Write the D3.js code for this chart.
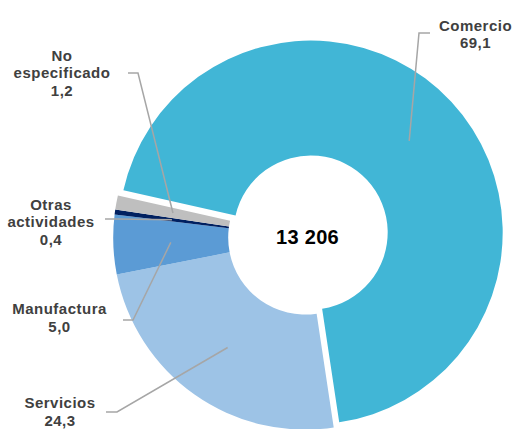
<!DOCTYPE html>
<html>
<head>
<meta charset="utf-8">
<script src="https://cdn.jsdelivr.net/npm/d3@7"></script>
<style>
  html, body { margin: 0; padding: 0; background: #ffffff; }
  svg { display: block; }
</style>
</head>
<body>
<svg id="chart" width="515" height="429"></svg>
<script>
// ---- data ----
const categories = ["Comercio", "Servicios", "Manufactura", "Otras actividades", "No especificado"];
const values = [69.1, 24.3, 5.0, 0.4, 1.2];
const valueLabels = ["69,1", "24,3", "5,0", "0,4", "1,2"];
const colors = ["#41B6D6", "#9DC3E6", "#5B9BD5", "#002060", "#BFBFBF"];
const exploded = [true, false, false, false, false];
const totalLabel = "13 206";

// ---- layout (label anchors: text centre x, first baseline, leader start / knee) ----
const labelLayout = [
  { tx: 475.5, ty: 30.7, sx: 430, sy: 33,  kx: 419, ky: 33 },
  { tx: 60,    ty: 408.3, sx: 106, sy: 412, kx: 117, ky: 412 },
  { tx: 59.5,  ty: 314.3, sx: 123, sy: 320, kx: 133, ky: 320 },
  { tx: 51,    ty: 210,  sx: 105, sy: 219, kx: 115, ky: 219 },
  { tx: 62,    ty: 61,   sx: 128, sy: 73,  kx: 138, ky: 73 }
];

const W = 515, H = 429;
const cx = 305.2, cy = 237.6;
const outerR = 192, innerR = 77;
const explodeDist = 7.5;
const lineH = 17.4;
const start = -77.3 * Math.PI / 180;

const svg = d3.select("#chart");

const pie = d3.pie().sort(null).value(d => d)
  .startAngle(start).endAngle(start + 2 * Math.PI);
const arcs = pie(values);
const arc = d3.arc().innerRadius(innerR).outerRadius(outerR);

function offsetOf(i) {
  if (!exploded[i]) return [0, 0];
  const a = (arcs[i].startAngle + arcs[i].endAngle) / 2;
  return [Math.sin(a) * explodeDist, -Math.cos(a) * explodeDist];
}

const g = svg.append("g").attr("transform", `translate(${cx},${cy})`);

g.selectAll("path.slice")
  .data(arcs)
  .join("path")
  .attr("class", "slice")
  .attr("d", arc)
  .attr("fill", (d, i) => colors[i])
  .attr("transform", (d, i) => {
    const o = offsetOf(i);
    return `translate(${o[0]},${o[1]})`;
  });

// leader lines
svg.append("g").selectAll("polyline")
  .data(arcs)
  .join("polyline")
  .attr("fill", "none")
  .attr("stroke", "#A6A6A6")
  .attr("stroke-width", 1.5)
  .attr("points", (d, i) => {
    const c = arc.centroid(d);
    const o = offsetOf(i);
    const L = labelLayout[i];
    const ex = cx + c[0] + o[0], ey = cy + c[1] + o[1];
    return [[L.sx, L.sy], [L.kx, L.ky], [ex, ey]].map(p => p.join(",")).join(" ");
  });

// labels
const labels = svg.append("g")
  .attr("font-family", "'Liberation Sans', Arial, sans-serif")
  .attr("font-weight", "bold")
  .attr("font-size", 15)
  .attr("letter-spacing", 0.5)
  .attr("fill", "#404040")
  .attr("text-anchor", "middle");

categories.forEach((cat, i) => {
  const lines = cat.split(" ").concat([valueLabels[i]]);
  const L = labelLayout[i];
  const t = labels.append("text");
  lines.forEach((ln, j) => {
    t.append("tspan").attr("x", L.tx).attr("y", L.ty + j * lineH).text(ln);
  });
});

// centre total
svg.append("text")
  .attr("x", cx + 2.3)
  .attr("y", cy + 6.7)
  .attr("text-anchor", "middle")
  .attr("font-family", "'Liberation Sans', Arial, sans-serif")
  .attr("font-weight", "bold")
  .attr("font-size", 20)
  .attr("letter-spacing", 0.3)
  .attr("fill", "#000000")
  .text(totalLabel);
</script>
</body>
</html>
